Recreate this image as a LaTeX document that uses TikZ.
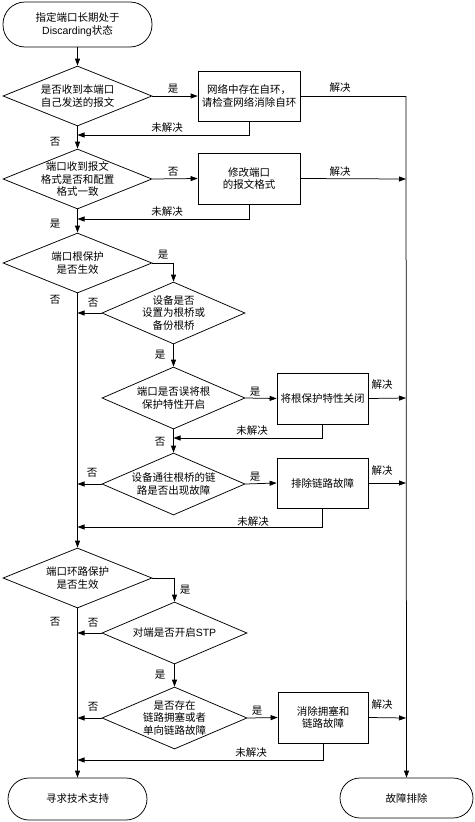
\documentclass[tikz,border=0pt]{standalone}
\usepackage{fontspec}
\setmainfont{Noto Sans CJK SC}
\newfontfamily\lat{Liberation Sans}
\usetikzlibrary{shapes.geometric,arrows.meta}
\begin{document}
\begin{tikzpicture}[x=1pt,y=-1pt,
  font=\fontsize{10.5}{12.8}\selectfont,
  ln/.style={draw=black,line width=0.75pt},
  ar/.style={ln,-{Triangle[length=7pt,width=5pt]}},
  dia/.style={diamond,ln,inner sep=0pt,aspect=2.4},
  box/.style={rectangle,ln,inner sep=0pt},
  term/.style={rectangle,ln,inner sep=0pt},
  txt/.style={align=center,inner sep=0pt},
  lbl/.style={inner sep=0pt}]
\useasboundingbox (0,0) rectangle (474,822);
\fill[white] (0,0) rectangle (474,822);

% terminals
\node[term,minimum width=149pt,minimum height=45pt,rounded corners=22pt] (start) at (77.5,24.5) {};
\node[txt] (startt) at (start) {指定端口长期处于\\{\lat Discarding}状态};
\node[term,minimum width=139pt,minimum height=42pt,rounded corners=21pt] (end1) at (77.5,799) {};
\node[txt] (end1t) at (end1) {寻求技术支持};
\node[term,minimum width=133pt,minimum height=40pt,rounded corners=20pt] (end2) at (406.5,798) {};
\node[txt] (end2t) at (end2) {故障排除};

% diamonds
\node[dia,minimum width=149pt,minimum height=60pt] (d1) at (77.5,96) {};
\node[txt] (d1t) at (d1) {是否收到本端口\\自己发送的报文};
\node[dia,minimum width=149pt,minimum height=60pt] (d2) at (77.5,179) {};
\node[txt] (d2t) at (d2) {端口收到报文\\格式是否和配置\\格式一致};
\node[dia,minimum width=149pt,minimum height=60pt] (d3) at (77.5,263) {};
\node[txt] (d3t) at (d3) {端口根保护\\是否生效};
\node[dia,minimum width=143pt,minimum height=62pt] (d4) at (173.5,313) {};
\node[txt] (d4t) at (d4) {设备是否\\设置为根桥或\\备份根桥};
\node[dia,minimum width=143pt,minimum height=62pt] (d5) at (173.5,398) {};
\node[txt] (d5t) at (d5) {端口是否误将根\\保护特性开启};
\node[dia,minimum width=143pt,minimum height=62pt] (d6) at (173.5,484) {};
\node[txt] (d6t) at (d6) {设备通往根桥的链\\路是否出现故障};
\node[dia,minimum width=149pt,minimum height=60pt] (d7) at (77.5,578) {};
\node[txt] (d7t) at (d7) {端口环路保护\\是否生效};
\node[dia,minimum width=145pt,minimum height=62pt] (d8) at (174.5,633) {};
\node[txt] (d8t) at (d8) {对端是否开启{\lat STP}};
\node[dia,minimum width=145pt,minimum height=62pt] (d9) at (174.5,718) {};
\node[txt] (d9t) at (d9) {是否存在\\链路拥塞或者\\单向链路故障};

% boxes
\node[box,minimum width=102pt,minimum height=50pt] (b1) at (249,96) {};
\node[txt] (b1t) at (b1) {网络中存在自环，\\请检查网络消除自环};
\node[box,minimum width=102pt,minimum height=51pt] (b2) at (249,178.5) {};
\node[txt] (b2t) at (b2) {修改端口\\的报文格式};
\node[box,minimum width=91pt,minimum height=51pt] (b3) at (322.5,398.5) {};
\node[txt] (b3t) at (b3) {将根保护特性关闭};
\node[box,minimum width=91pt,minimum height=50pt] (b4) at (322.5,483) {};
\node[txt] (b4t) at (b4) {排除链路故障};
\node[box,minimum width=90pt,minimum height=51pt] (b5) at (323,717.5) {};
\node[txt] (b5t) at (b5) {消除拥塞和\\链路故障};

% coordinates on verticals
\coordinate (m1) at (77.5,135);
\coordinate (m2) at (77.5,219);
\coordinate (m3) at (77.5,313);
\coordinate (m4) at (77.5,484);
\coordinate (m5) at (77.5,527);
\coordinate (m6) at (77.5,633);
\coordinate (m7) at (77.5,718);
\coordinate (m8) at (77.5,760);
\coordinate (s1) at (173.5,438);
\coordinate (r1) at (406,96);
\coordinate (r2) at (406,179);
\coordinate (r3) at (406,398);
\coordinate (r4) at (406,483);
\coordinate (r5) at (406,718);

% main flow
\draw[ar] (start) -- (d1);
\draw[ar] (d1) -- (d2);
\draw[ar] (d2) -- (d3);
\draw[ar] (d3.south) -- (d7.north);
\draw[ar] (d7.south) -- (end1.north);
\draw[ar] (d1.east) -- (b1.west);
\draw[ar] (d2.east) -- (b2.west);
\draw[ar] (d3.east) -| (d4.north);
\draw[ar] (d4.south) -- (d5.north);
\draw[ar] (d5.south) -- (d6.north);
\draw[ar] (d7.east) -| (d8.north);
\draw[ar] (d8.south) -- (d9.north);
\draw[ar] (d5.east) -- (b3.west);
\draw[ar] (d6.east) -- (b4.west);
\draw[ar] (d9.east) -- (b5.west);
\draw[ar] (d4.west) -- (m3);
\draw[ar] (d6.west) -- (m4);
\draw[ar] (d8.west) -- (m6);
\draw[ar] (d9.west) -- (m7);

% unresolved returns
\draw[ar] (b1.south) |- (m1);
\draw[ar] (b2.south) |- (m2);
\draw[ar] (b3.south) |- (s1);
\draw[ar] (b4.south) |- (m5);
\draw[ar] (b5.south) |- (m8);

% resolved
\draw[ln] (b1.east) -- (r1);
\draw[ar] (r1) -- (end2.north);
\draw[ar] (b2.east) -- (r2);
\draw[ar] (b3.east) -- (r3);
\draw[ar] (b4.east) -- (r4);
\draw[ar] (b5.east) -- (r5);

% labels
\node[lbl] (l1) at (173,89) {是};
\node[lbl] (l2) at (340,88) {解决};
\node[lbl] (l3) at (167,128) {未解决};
\node[lbl] (l4) at (55,142) {否};
\node[lbl] (l5) at (173,172) {否};
\node[lbl] (l6) at (340,172) {解决};
\node[lbl] (l7) at (167,212) {未解决};
\node[lbl] (l8) at (55,224) {是};
\node[lbl] (l9) at (163,255) {是};
\node[lbl] (l10) at (93,303) {否};
\node[lbl] (l11) at (55,300) {否};
\node[lbl] (l12) at (160,355) {是};
\node[lbl] (l13) at (255,392) {是};
\node[lbl] (l14) at (382,385) {解决};
\node[lbl] (l15) at (252,431) {未解决};
\node[lbl] (l16) at (160,442) {否};
\node[lbl] (l17) at (92,473) {否};
\node[lbl] (l18) at (255,477) {是};
\node[lbl] (l19) at (382,471) {解决};
\node[lbl] (l20) at (253,522) {未解决};
\node[lbl] (l21) at (185,590) {是};
\node[lbl] (l22) at (93,623) {否};
\node[lbl] (l23) at (55,622) {否};
\node[lbl] (l24) at (160,675) {是};
\node[lbl] (l25) at (93,707) {否};
\node[lbl] (l26) at (257,711) {是};
\node[lbl] (l27) at (382,705) {解决};
\node[lbl] (l28) at (251,753) {未解决};
\end{tikzpicture}
\end{document}
